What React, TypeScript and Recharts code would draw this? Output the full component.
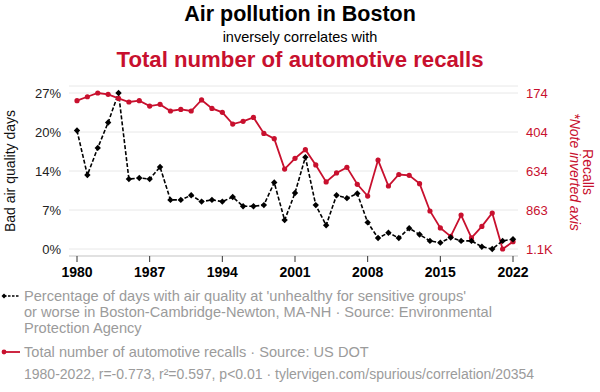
import React from 'react';
import { CartesianGrid, ComposedChart, Line, XAxis, YAxis } from 'recharts';

const FONT = '"Liberation Sans", Arial, Helvetica, sans-serif';
const RED = '#c8102e';
const GREY = '#9b9b9b';

const years = [
  1980, 1981, 1982, 1983, 1984, 1985, 1986, 1987, 1988, 1989, 1990, 1991, 1992, 1993, 1994,
  1995, 1996, 1997, 1998, 1999, 2000, 2001, 2002, 2003, 2004, 2005, 2006, 2007, 2008, 2009,
  2010, 2011, 2012, 2013, 2014, 2015, 2016, 2017, 2018, 2019, 2020, 2021, 2022
];

// % of days "unhealthy for sensitive groups" or worse
const badAirDays = [
  20.5, 12.8, 17.5, 21.9, 27.0, 12.1, 12.3, 12.1, 14.2, 8.5, 8.5, 9.3, 8.2, 8.5, 8.2,
  9.0, 7.4, 7.4, 7.6, 11.5, 5.0, 9.7, 15.9, 7.6, 4.1, 9.3, 8.8, 9.6, 4.6, 1.9,
  2.8, 1.9, 3.6, 2.5, 1.4, 1.1, 2.0, 1.4, 1.4, 0.4, 0.0, 1.4, 1.7
];

const recalls = [
  219, 196, 174, 182, 206, 227, 219, 251, 241, 280, 271, 280, 215, 265, 288,
  357, 341, 318, 412, 443, 622, 559, 508, 598, 698, 645, 612, 712, 781, 569,
  722, 654, 659, 708, 869, 969, 1019, 893, 1028, 960, 881, 1093, 1050
];

const xTicks = [1980, 1987, 1994, 2001, 2008, 2015, 2022];
const leftTicks = [0, 6.75, 13.5, 20.25, 27];
const rightTicks = [174, 403.75, 633.5, 863.25, 1093];

const data = years.map((year, i) => ({ year, air: badAirDays[i], recalls: recalls[i] }));

const Diamond = (props: { cx?: number; cy?: number; index?: number }) => {
  const { cx, cy, index } = props;
  if (cx == null || cy == null) return <g key={index} />;
  const s = 3.2;
  return (
    <path
      key={index}
      d={`M${cx},${cy - s}L${cx + s},${cy}L${cx},${cy + s}L${cx - s},${cy}Z`}
      fill="#000"
    />
  );
};

const formatRecalls = (v: number) => (v >= 1000 ? `${(v / 1000).toFixed(1)}K` : `${Math.round(v)}`);

export default function App() {
  return (
    <div style={{ position: 'absolute', left: 0, top: 0, width: 600, height: 392, background: '#fff', fontFamily: FONT }}>
      <div style={{ position: 'absolute', top: 1, width: 600, textAlign: 'center', fontSize: 21.5, fontWeight: 700, color: '#000', lineHeight: '26px' }}>
        Air pollution in Boston
      </div>
      <div style={{ position: 'absolute', top: 29, width: 600, textAlign: 'center', fontSize: 14.5, color: '#000', lineHeight: '17px' }}>
        inversely correlates with
      </div>
      <div style={{ position: 'absolute', top: 46, width: 600, textAlign: 'center', fontSize: 22.2, fontWeight: 700, color: RED, lineHeight: '27px' }}>
        Total number of automotive recalls
      </div>

      <div style={{ position: 'absolute', left: 0, top: 0 }}>
        <ComposedChart width={600} height={392} data={data} margin={{ top: 86, right: 0, bottom: 106, left: 0 }}>
          <CartesianGrid yAxisId="left" vertical={false} stroke="#e8e8e8" />
          <XAxis
            dataKey="year"
            type="number"
            domain={[1980, 2022]}
            ticks={xTicks}
            interval={0}
            height={30}
            padding={{ left: 8, right: 5 }}
            stroke="#cfcfcf"
            tickLine={{ stroke: '#333' }}
            tickMargin={5}
            tick={{ fill: '#000', fontSize: 14, fontWeight: 700, fontFamily: FONT }}
          />
          <YAxis
            yAxisId="left"
            width={69}
            domain={[0, 27]}
            ticks={leftTicks}
            interval={0}
            axisLine={false}
            tickLine={false}
            padding={{ top: 7, bottom: 7 }}
            tickFormatter={(v: number) => `${Math.round(v)}%`}
            tick={{ fill: '#222', fontSize: 13, fontFamily: FONT }}
          />
          <YAxis
            yAxisId="right"
            orientation="right"
            width={82}
            reversed
            domain={[174, 1093]}
            ticks={rightTicks}
            interval={0}
            axisLine={false}
            tickLine={false}
            padding={{ top: 7, bottom: 7 }}
            tickFormatter={formatRecalls}
            tick={{ fill: RED, fontSize: 13, fontFamily: FONT, textAnchor: 'start' }}
          />
          <Line
            yAxisId="right"
            dataKey="recalls"
            type="linear"
            stroke={RED}
            strokeWidth={1.8}
            dot={{ r: 2.6, fill: RED, stroke: RED, strokeWidth: 0 }}
            isAnimationActive={false}
          />
          <Line
            yAxisId="left"
            dataKey="air"
            type="linear"
            stroke="#000"
            strokeWidth={1.6}
            strokeDasharray="4 2"
            dot={<Diamond />}
            isAnimationActive={false}
          />
        </ComposedChart>
      </div>

      <div style={{ position: 'absolute', left: 10, top: 171, transform: 'translate(-50%, -50%) rotate(-90deg)', whiteSpace: 'nowrap', fontSize: 14, color: '#111' }}>
        Bad air quality days
      </div>
      <div style={{ position: 'absolute', left: 588, top: 172, transform: 'translate(-50%, -50%) rotate(90deg)', whiteSpace: 'nowrap', fontSize: 14, color: RED }}>
        Recalls
      </div>
      <div style={{ position: 'absolute', left: 575, top: 172, transform: 'translate(-50%, -50%) rotate(90deg)', whiteSpace: 'nowrap', fontSize: 14, fontStyle: 'italic', color: RED }}>
        *Note inverted axis
      </div>

      <div style={{ position: 'absolute', left: 0, top: 288, fontSize: 14.6, color: GREY, lineHeight: '16px' }}>
        <svg width={22} height={16} style={{ position: 'absolute', left: 0, top: 0 }}>
          <line x1={4} y1={8} x2={20} y2={8} stroke="#000" strokeWidth={1.4} strokeDasharray="2.5 1.5" />
          <path d="M4,5.5L6.5,8L4,10.5L1.5,8Z" fill="#000" />
        </svg>
        <div style={{ marginLeft: 24, width: 520, whiteSpace: 'nowrap' }}>
          Percentage of days with air quality at 'unhealthy for sensitive groups'
          <br />
          or worse in Boston-Cambridge-Newton, MA-NH · Source: Environmental
          <br />
          Protection Agency
        </div>
      </div>
      <div style={{ position: 'absolute', left: 0, top: 344, fontSize: 14.6, color: GREY, lineHeight: '16px' }}>
        <svg width={22} height={16} style={{ position: 'absolute', left: 0, top: 0 }}>
          <line x1={4} y1={8} x2={20} y2={8} stroke={RED} strokeWidth={1.8} />
          <circle cx={4} cy={8} r={2.4} fill={RED} />
        </svg>
        <div style={{ marginLeft: 24, whiteSpace: 'nowrap' }}>Total number of automotive recalls · Source: US DOT</div>
      </div>
      <div style={{ position: 'absolute', left: 24, top: 366, fontSize: 14, color: GREY, lineHeight: '16px', whiteSpace: 'nowrap' }}>
        1980-2022, r=-0.773, r²=0.597, p&lt;0.01 · tylervigen.com/spurious/correlation/20354
      </div>
    </div>
  );
}
